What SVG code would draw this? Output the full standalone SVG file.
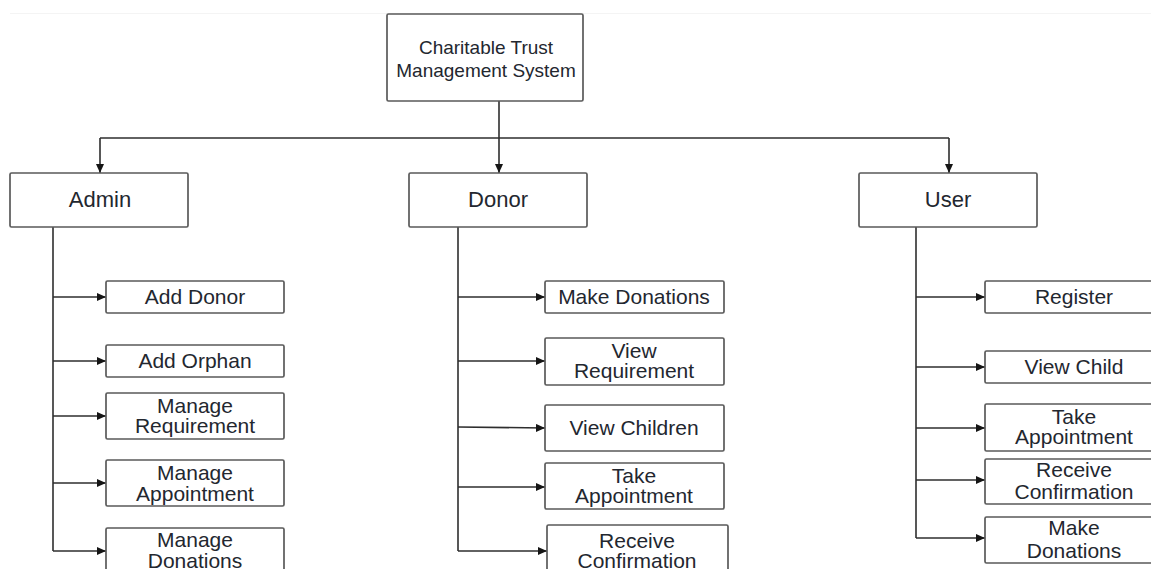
<svg xmlns="http://www.w3.org/2000/svg" width="1151" height="569" viewBox="0 0 1151 569">
  <defs>
    <marker id="arrow" markerWidth="10" markerHeight="9" refX="9" refY="4" orient="auto" markerUnits="userSpaceOnUse">
      <path d="M0,0 L9,4 L0,8 Z" fill="#151515"/>
    </marker>
    <style>
      .box { fill: #ffffff; stroke: #5a5a5a; stroke-width: 1.7; }
      .lbl { font-family: "Liberation Sans", Arial, sans-serif; fill: #23272f; text-anchor: middle; }
      .title { font-size: 19px; }
      .main { font-size: 22px; }
      .sub { font-size: 21px; }
      .wire { fill: none; stroke: #2e2e2e; stroke-width: 1.6; }
      .arr { marker-end: url(#arrow); }
    </style>
  </defs>

  <rect width="1151" height="569" fill="#ffffff"/>
  <line x1="10" y1="13.5" x2="1151" y2="13.5" stroke="#f4f4f4" stroke-width="1"/>

  <!-- connectors -->
  <g id="connectors">
    <path class="wire" d="M499,101 V138"/>
    <path class="wire" d="M100,138 H949"/>
    <path class="wire arr" d="M100,138 V173"/>
    <path class="wire arr" d="M499,138 V173"/>
    <path class="wire arr" d="M949,138 V173"/>

    <!-- admin branch -->
    <path class="wire" d="M53,227 V551"/>
    <path class="wire arr" d="M53,297 H106"/>
    <path class="wire arr" d="M53,361 H106"/>
    <path class="wire arr" d="M53,416 H106"/>
    <path class="wire arr" d="M53,483 H106"/>
    <path class="wire arr" d="M53,551 H106"/>

    <!-- donor branch -->
    <path class="wire" d="M458,227 V551"/>
    <path class="wire arr" d="M458,297 H545"/>
    <path class="wire arr" d="M458,361 H545"/>
    <path class="wire arr" d="M458,427 L545,428"/>
    <path class="wire arr" d="M458,487 H545"/>
    <path class="wire arr" d="M458,551 H547"/>

    <!-- user branch -->
    <path class="wire" d="M916,227 V538"/>
    <path class="wire arr" d="M916,297 H985"/>
    <path class="wire arr" d="M916,367 H985"/>
    <path class="wire arr" d="M916,428 H985"/>
    <path class="wire arr" d="M916,480 H985"/>
    <path class="wire arr" d="M916,538 H985"/>
  </g>

  <!-- root -->
  <g id="root">
    <rect class="box" x="387" y="14" width="196" height="87" rx="1.5"/>
    <text class="lbl title" x="486" y="54">Charitable Trust</text>
    <text class="lbl title" x="486" y="77">Management System</text>
  </g>

  <!-- actors -->
  <g id="admin">
    <rect class="box" x="10" y="173" width="178" height="54" rx="1.5"/>
    <text class="lbl main" x="100" y="207">Admin</text>
  </g>
  <g id="donor">
    <rect class="box" x="409" y="173" width="178" height="54" rx="1.5"/>
    <text class="lbl main" x="498" y="207">Donor</text>
  </g>
  <g id="user">
    <rect class="box" x="859" y="173" width="178" height="54" rx="1.5"/>
    <text class="lbl main" x="948" y="207">User</text>
  </g>

  <!-- admin functions -->
  <g id="admin-add-donor">
    <rect class="box" x="106" y="281" width="178" height="32" rx="1.5"/>
    <text class="lbl sub" x="195" y="304">Add Donor</text>
  </g>
  <g id="admin-add-orphan">
    <rect class="box" x="106" y="345" width="178" height="32" rx="1.5"/>
    <text class="lbl sub" x="195" y="368">Add Orphan</text>
  </g>
  <g id="admin-manage-requirement">
    <rect class="box" x="106" y="393" width="178" height="46" rx="1.5"/>
    <text class="lbl sub" x="195" y="413">Manage</text>
    <text class="lbl sub" x="195" y="433">Requirement</text>
  </g>
  <g id="admin-manage-appointment">
    <rect class="box" x="106" y="460" width="178" height="46" rx="1.5"/>
    <text class="lbl sub" x="195" y="480">Manage</text>
    <text class="lbl sub" x="195" y="501">Appointment</text>
  </g>
  <g id="admin-manage-donations">
    <rect class="box" x="106" y="528" width="178" height="46" rx="1.5"/>
    <text class="lbl sub" x="195" y="547">Manage</text>
    <text class="lbl sub" x="195" y="568">Donations</text>
  </g>

  <!-- donor functions -->
  <g id="donor-make-donations">
    <rect class="box" x="545" y="281" width="179" height="32" rx="1.5"/>
    <text class="lbl sub" x="634" y="304">Make Donations</text>
  </g>
  <g id="donor-view-requirement">
    <rect class="box" x="545" y="338" width="179" height="47" rx="1.5"/>
    <text class="lbl sub" x="634" y="358">View</text>
    <text class="lbl sub" x="634" y="378">Requirement</text>
  </g>
  <g id="donor-view-children">
    <rect class="box" x="545" y="405" width="179" height="46" rx="1.5"/>
    <text class="lbl sub" x="634" y="435">View Children</text>
  </g>
  <g id="donor-take-appointment">
    <rect class="box" x="545" y="463" width="179" height="46" rx="1.5"/>
    <text class="lbl sub" x="634" y="483">Take</text>
    <text class="lbl sub" x="634" y="503">Appointment</text>
  </g>
  <g id="donor-receive-confirmation">
    <rect class="box" x="547" y="525" width="181" height="46" rx="1.5"/>
    <text class="lbl sub" x="637" y="548">Receive</text>
    <text class="lbl sub" x="637" y="568">Confirmation</text>
  </g>

  <!-- user functions -->
  <g id="user-register">
    <rect class="box" x="985" y="281" width="178" height="32" rx="1.5"/>
    <text class="lbl sub" x="1074" y="304">Register</text>
  </g>
  <g id="user-view-child">
    <rect class="box" x="985" y="351" width="178" height="32" rx="1.5"/>
    <text class="lbl sub" x="1074" y="374">View Child</text>
  </g>
  <g id="user-take-appointment">
    <rect class="box" x="985" y="404" width="178" height="47" rx="1.5"/>
    <text class="lbl sub" x="1074" y="424">Take</text>
    <text class="lbl sub" x="1074" y="444">Appointment</text>
  </g>
  <g id="user-receive-confirmation">
    <rect class="box" x="985" y="459" width="178" height="45" rx="1.5"/>
    <text class="lbl sub" x="1074" y="477">Receive</text>
    <text class="lbl sub" x="1074" y="499">Confirmation</text>
  </g>
  <g id="user-make-donations">
    <rect class="box" x="985" y="517" width="178" height="46" rx="1.5"/>
    <text class="lbl sub" x="1074" y="535">Make</text>
    <text class="lbl sub" x="1074" y="558">Donations</text>
  </g>
</svg>
